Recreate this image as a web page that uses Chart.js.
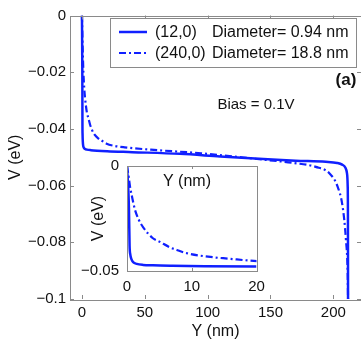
<!DOCTYPE html>
<html>
<head>
<meta charset="utf-8">
<script src="https://cdn.jsdelivr.net/npm/chart.js@4/dist/chart.umd.min.js"></script>
<style>
  html, body { margin: 0; padding: 0; background: #fff; }
  #wrap { position: relative; width: 361px; height: 341px; overflow: hidden; }
  #main { position: absolute; left: 0; top: 0; }
  #inset { position: absolute; left: 70px; top: 150px; }
</style>
</head>
<body>
<div id="wrap">
  <canvas id="main" width="361" height="341"></canvas>
  <canvas id="inset" width="200" height="150"></canvas>
</div>
<script>
// Potential profile across the ribbon width for two nanotube diameters
const seriesLabels = ['(12,0)', '(240,0)'];
const diameterLabels = ['Diameter= 0.94 nm', 'Diameter= 18.8 nm'];

// (12,0) tube: position Y (nm) and potential V (eV)
const yNm12 = [0, 0.3, 0.4, 0.5, 0.7, 0.95, 1.5, 2.5, 4, 7, 12, 20, 40, 78, 110, 141, 170, 194, 203, 207, 209.5, 210.8, 211.4, 211.6, 211.7];
const v12   = [0, -0.02, -0.038, -0.042, -0.0445, -0.0458, -0.0466, -0.0471, -0.0473, -0.0475, -0.0477, -0.0479, -0.0482, -0.0488, -0.0497, -0.0505, -0.0512, -0.0516, -0.052, -0.0526, -0.0536, -0.0555, -0.06, -0.07, -0.1];

// (240,0) tube
const yNm240 = [0, 0.3, 0.5, 0.7, 1.2, 1.8, 2.5, 4, 5, 6.6, 7.7, 9.2, 13.4, 15.6, 19.6, 26, 34, 60, 95, 141, 168, 186, 197, 203.4, 207.4, 210, 211.4, 211.7];
const v240   = [0, -0.006, -0.0105, -0.0135, -0.0205, -0.0255, -0.0292, -0.0344, -0.036, -0.0387, -0.04, -0.0415, -0.0435, -0.0441, -0.0452, -0.046, -0.0465, -0.0475, -0.0486, -0.0507, -0.052, -0.0534, -0.0557, -0.0604, -0.0675, -0.079, -0.091, -0.1];

// Axis ticks
const mainXTicks = [0, 50, 100, 150, 200];
const mainXTickLabels = ['0', '50', '100', '150', '200'];
const mainYTicks = [0, -0.02, -0.04, -0.06, -0.08, -0.1];
const mainYTickLabels = ['0', '\u22120.02', '\u22120.04', '\u22120.06', '\u22120.08', '\u22120.1'];
const insetXTicks = [0, 10, 20];
const insetXTickLabels = ['0', '10', '20'];
const insetYTicks = [0, -0.05];
const insetYTickLabels = ['0', '\u22120.05'];

const BLUE = '#1020ff';
const FRAME = '#8a8a8a';
const TEXT = '#111';
const FONT = '"Liberation Sans", Arial, Helvetica, sans-serif';

function toPoints(xs, ys) { return xs.map((x, i) => ({ x: x, y: ys[i] })); }

function makeDatasets() {
  return [
    { label: seriesLabels[0], data: toPoints(yNm12, v12), borderColor: BLUE, borderWidth: 2.5,
      pointRadius: 0, fill: false, cubicInterpolationMode: 'monotone' },
    { label: seriesLabels[1], data: toPoints(yNm240, v240), borderColor: BLUE, borderWidth: 2.2,
      borderDash: [7, 3, 2, 3], pointRadius: 0, fill: false, cubicInterpolationMode: 'monotone' }
  ];
}

function fixedTicks(values) {
  return function (scale) { scale.ticks = values.map(v => ({ value: v })); };
}
function fixSize(prop, size) {
  return function (scale) {
    scale[prop] = size;
    scale.paddingLeft = 0; scale.paddingRight = 0; scale.paddingTop = 0; scale.paddingBottom = 0;
  };
}

// Box round the axes with inward tick marks on all four sides
const framePlugin = {
  id: 'frame',
  beforeDraw(chart, args, opts) {
    if (!opts.fillArea) return;
    const a = chart.chartArea, ctx = chart.ctx;
    ctx.save();
    ctx.fillStyle = '#fff';
    ctx.fillRect(a.left, a.top, a.right - a.left, a.bottom - a.top);
    ctx.restore();
  },
  afterDatasetsDraw(chart, args, opts) {
    const a = chart.chartArea, ctx = chart.ctx;
    const len = opts.tickLen || 4;
    ctx.save();
    ctx.strokeStyle = FRAME;
    ctx.lineWidth = 1;
    ctx.strokeRect(Math.round(a.left) + 0.5, Math.round(a.top) + 0.5,
                   Math.round(a.right - a.left), Math.round(a.bottom - a.top));
    ctx.beginPath();
    chart.scales.x.ticks.forEach(t => {
      const px = Math.round(chart.scales.x.getPixelForValue(t.value)) + 0.5;
      ctx.moveTo(px, a.bottom); ctx.lineTo(px, a.bottom - len);
      ctx.moveTo(px, a.top); ctx.lineTo(px, a.top + len);
    });
    chart.scales.y.ticks.forEach(t => {
      const py = Math.round(chart.scales.y.getPixelForValue(t.value)) + 0.5;
      ctx.moveTo(a.left, py); ctx.lineTo(a.left + len, py);
      ctx.moveTo(a.right, py); ctx.lineTo(a.right - len, py);
    });
    ctx.stroke();
    ctx.restore();
  }
};

// Legend box and the free text labels of the main axes
const mainTextPlugin = {
  id: 'mainText',
  afterDraw(chart) {
    const ctx = chart.ctx;
    ctx.save();
    // legend
    ctx.fillStyle = '#fff';
    ctx.fillRect(110, 18, 246, 49);
    ctx.strokeStyle = FRAME;
    ctx.lineWidth = 1;
    ctx.strokeRect(110.5, 18.5, 246, 49);
    const rows = [32, 53];
    chart.data.datasets.forEach((ds, i) => {
      ctx.strokeStyle = ds.borderColor;
      ctx.lineWidth = ds.borderWidth;
      ctx.setLineDash(ds.borderDash || []);
      ctx.beginPath();
      ctx.moveTo(119, rows[i]); ctx.lineTo(147, rows[i]);
      ctx.stroke();
      ctx.setLineDash([]);
      ctx.fillStyle = TEXT;
      ctx.font = '16px ' + FONT;
      ctx.textAlign = 'left';
      ctx.textBaseline = 'middle';
      ctx.fillText(ds.label, 155, rows[i] + 1);
      ctx.fillText(diameterLabels[i], 212, rows[i] + 1);
    });
    // panel tag and bias note
    ctx.fillStyle = TEXT;
    ctx.font = 'bold 17px ' + FONT;
    ctx.textAlign = 'center';
    ctx.fillText('(a)', 346, 80);
    ctx.font = '15px ' + FONT;
    ctx.fillText('Bias = 0.1V', 256, 105);
    ctx.restore();
  }
};

const insetTextPlugin = {
  id: 'insetText',
  afterDraw(chart) {
    const ctx = chart.ctx;
    ctx.save();
    ctx.fillStyle = TEXT;
    ctx.font = '16px ' + FONT;
    ctx.textAlign = 'center';
    ctx.textBaseline = 'middle';
    ctx.fillText('Y (nm)', 117, 32);
    ctx.restore();
  }
};

const tickFont = { family: FONT, size: 15 };
const titleFont = { family: FONT, size: 16 };

new Chart(document.getElementById('main'), {
  type: 'line',
  data: { datasets: makeDatasets() },
  options: {
    responsive: false, animation: false, devicePixelRatio: 1,
    layout: { padding: { left: 0, top: 15.5, right: 0, bottom: 0 } },
    plugins: { legend: { display: false }, tooltip: { enabled: false }, frame: { tickLen: 4 } },
    scales: {
      x: {
        type: 'linear', min: -9.5, max: 222,
        grid: { display: false, drawTicks: false }, border: { display: false },
        afterBuildTicks: fixedTicks(mainXTicks), afterFit: fixSize('height', 42),
        ticks: { color: TEXT, font: tickFont, padding: 5, maxRotation: 0,
                 callback: (v, i) => mainXTickLabels[i] },
        title: { display: true, text: 'Y (nm)', color: TEXT, font: titleFont, padding: 0 }
      },
      y: {
        type: 'linear', min: -0.1, max: 0,
        grid: { display: false, drawTicks: false }, border: { display: false },
        afterBuildTicks: fixedTicks(mainYTicks), afterFit: fixSize('width', 70),
        ticks: { color: TEXT, font: tickFont, padding: 4, callback: (v, i) => mainYTickLabels[i] },
        title: { display: true, text: 'V (eV)', color: TEXT, font: titleFont, padding: { top: 6 } }
      }
    }
  },
  plugins: [framePlugin, mainTextPlugin]
});

new Chart(document.getElementById('inset'), {
  type: 'line',
  data: { datasets: makeDatasets() },
  options: {
    responsive: false, animation: false, devicePixelRatio: 1,
    layout: { padding: { left: 0, top: 16, right: 13.5, bottom: 0 } },
    plugins: { legend: { display: false }, tooltip: { enabled: false }, frame: { tickLen: 3, fillArea: true } },
    scales: {
      x: {
        type: 'linear', min: 0, max: 20,
        grid: { display: false, drawTicks: false }, border: { display: false },
        afterBuildTicks: fixedTicks(insetXTicks), afterFit: fixSize('height', 29),
        ticks: { color: TEXT, font: tickFont, padding: 7, maxRotation: 0,
                 callback: (v, i) => insetXTickLabels[i] }
      },
      y: {
        type: 'linear', min: -0.05, max: 0,
        grid: { display: false, drawTicks: false }, border: { display: false },
        afterBuildTicks: fixedTicks(insetYTicks), afterFit: fixSize('width', 57),
        ticks: { color: TEXT, font: tickFont, padding: 8, callback: (v, i) => insetYTickLabels[i] },
        title: { display: true, text: 'V (eV)', color: TEXT, font: titleFont, padding: { top: 19 } }
      }
    }
  },
  plugins: [framePlugin, insetTextPlugin]
});
</script>
</body>
</html>
